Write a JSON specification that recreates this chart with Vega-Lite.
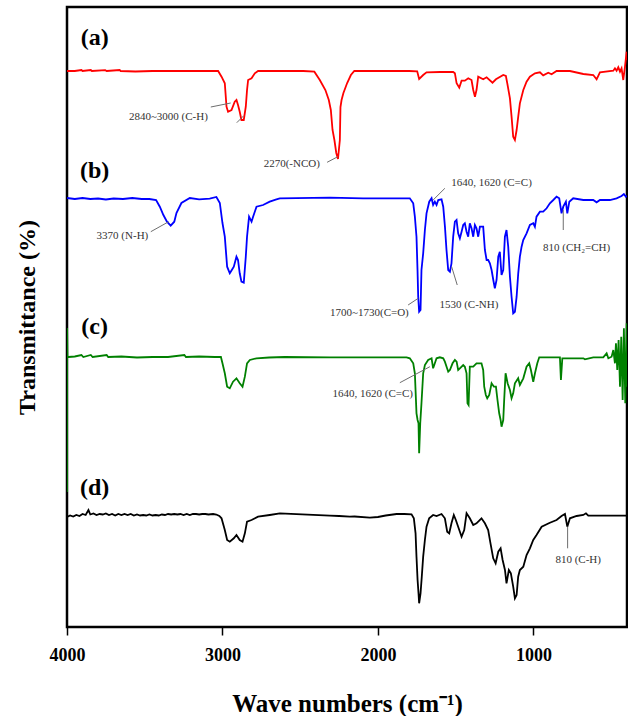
{
"$schema": "https://vega.github.io/schema/vega-lite/v6.json",
"width": 560, "height": 620,
"autosize": "none",
"padding": {"left": 67, "top": 7, "right": 1, "bottom": 89},
"background": "white",
"config": {"view": {"stroke": "black", "strokeWidth": 2.5}, "font": "Liberation Serif"},
"datasets": {
"spectra": [
{"s":"a","w":4000,"t":556},{"s":"a","w":3950,"t":556},{"s":"a","w":3907,"t":557},{"s":"a","w":3900,"t":556},{"s":"a","w":3847,"t":557},{"s":"a","w":3840,"t":556},{"s":"a","w":3754,"t":556.8},{"s":"a","w":3745,"t":556},{"s":"a","w":3661,"t":557},{"s":"a","w":3655,"t":556},{"s":"a","w":3560,"t":555.5},{"s":"a","w":3450,"t":556},{"s":"a","w":3300,"t":556},{"s":"a","w":3150,"t":556},{"s":"a","w":3060,"t":556},{"s":"a","w":3028,"t":556},
{"s":"a","w":3006,"t":550.3},{"s":"a","w":2985,"t":543.7},{"s":"a","w":2974,"t":520.3},{"s":"a","w":2964,"t":515.3},{"s":"a","w":2942,"t":517},{"s":"a","w":2921,"t":525.3},{"s":"a","w":2910,"t":527},{"s":"a","w":2900,"t":522},{"s":"a","w":2889,"t":515.3},{"s":"a","w":2878,"t":507},{"s":"a","w":2863,"t":507},{"s":"a","w":2850,"t":520.3},{"s":"a","w":2842,"t":537},{"s":"a","w":2835,"t":547},{"s":"a","w":2813,"t":548.7},{"s":"a","w":2792,"t":553.7},{"s":"a","w":2771,"t":556},{"s":"a","w":2700,"t":556},{"s":"a","w":2600,"t":556},{"s":"a","w":2480,"t":556},
{"s":"a","w":2409,"t":555.3},{"s":"a","w":2374,"t":547},{"s":"a","w":2338,"t":537},{"s":"a","w":2316,"t":527},{"s":"a","w":2303,"t":517},{"s":"a","w":2292,"t":497},{"s":"a","w":2280,"t":487},{"s":"a","w":2268,"t":474},{"s":"a","w":2257,"t":468},{"s":"a","w":2245,"t":487},{"s":"a","w":2241,"t":520},{"s":"a","w":2234,"t":527},{"s":"a","w":2222,"t":534},{"s":"a","w":2198,"t":544},{"s":"a","w":2174,"t":552},{"s":"a","w":2152,"t":556},
{"s":"a","w":2100,"t":556},{"s":"a","w":1900,"t":556},{"s":"a","w":1800,"t":556},{"s":"a","w":1747.5,"t":555.7},{"s":"a","w":1735,"t":548},{"s":"a","w":1709,"t":552},{"s":"a","w":1687.5,"t":554.7},{"s":"a","w":1600,"t":555},{"s":"a","w":1516,"t":555},{"s":"a","w":1505,"t":553.7},{"s":"a","w":1494,"t":543.7},{"s":"a","w":1477,"t":539.3},{"s":"a","w":1462,"t":546.3},{"s":"a","w":1441,"t":546.3},{"s":"a","w":1419,"t":548.7},{"s":"a","w":1398,"t":547},{"s":"a","w":1387,"t":537},{"s":"a","w":1376,"t":530.3},{"s":"a","w":1366,"t":537},{"s":"a","w":1355,"t":550.3},{"s":"a","w":1323,"t":547.7},{"s":"a","w":1301,"t":549.7},{"s":"a","w":1263,"t":544.3},{"s":"a","w":1241,"t":547.7},{"s":"a","w":1194,"t":552},{"s":"a","w":1177,"t":551},{"s":"a","w":1168,"t":543.7},{"s":"a","w":1151,"t":528.7},{"s":"a","w":1140.5,"t":510.3},{"s":"a","w":1130,"t":490.3},{"s":"a","w":1119,"t":487},{"s":"a","w":1108,"t":497},{"s":"a","w":1097.6,"t":510.3},{"s":"a","w":1087,"t":523.7},{"s":"a","w":1065,"t":537},{"s":"a","w":1044,"t":545.3},{"s":"a","w":1022.5,"t":550.3},{"s":"a","w":990,"t":553.7},{"s":"a","w":958,"t":554.7},{"s":"a","w":937,"t":551.7},{"s":"a","w":904.5,"t":554.3},{"s":"a","w":883,"t":552.7},{"s":"a","w":851,"t":556},{"s":"a","w":765,"t":556},{"s":"a","w":679,"t":553},{"s":"a","w":615,"t":552},{"s":"a","w":593.5,"t":547.7},{"s":"a","w":572,"t":554.7},{"s":"a","w":486,"t":556.3},{"s":"a","w":475.5,"t":558.7},{"s":"a","w":465,"t":556.3},{"s":"a","w":454,"t":559.7},{"s":"a","w":443,"t":555.3},{"s":"a","w":433,"t":558.7},{"s":"a","w":422,"t":547},{"s":"a","w":411,"t":560.3},{"s":"a","w":400,"t":575.3},{"s":"a","w":398,"t":567},

{"s":"b","w":4000,"t":429},{"s":"b","w":3950,"t":428},{"s":"b","w":3900,"t":429},{"s":"b","w":3850,"t":428},{"s":"b","w":3800,"t":428.5},{"s":"b","w":3750,"t":427.5},{"s":"b","w":3700,"t":428.5},{"s":"b","w":3640,"t":428},{"s":"b","w":3580,"t":429},{"s":"b","w":3520,"t":428},{"s":"b","w":3470,"t":428},{"s":"b","w":3427,"t":427},{"s":"b","w":3403,"t":420.3},{"s":"b","w":3380,"t":412},{"s":"b","w":3357,"t":405.3},{"s":"b","w":3333,"t":401.3},{"s":"b","w":3310,"t":405.3},{"s":"b","w":3296,"t":414},{"s":"b","w":3264,"t":424},{"s":"b","w":3210,"t":429},{"s":"b","w":3150,"t":427.7},{"s":"b","w":3082,"t":428.3},{"s":"b","w":3039,"t":430},{"s":"b","w":3017,"t":424},
{"s":"b","w":3000,"t":404},{"s":"b","w":2985,"t":390.3},{"s":"b","w":2970,"t":360.3},{"s":"b","w":2953,"t":353.7},{"s":"b","w":2940,"t":357},{"s":"b","w":2927,"t":360.3},{"s":"b","w":2910,"t":370.3},{"s":"b","w":2900,"t":367},{"s":"b","w":2889,"t":353.7},{"s":"b","w":2878,"t":345.3},{"s":"b","w":2863,"t":344.3},{"s":"b","w":2850,"t":370.3},{"s":"b","w":2842,"t":390.3},{"s":"b","w":2829,"t":410.3},{"s":"b","w":2813,"t":405.3},{"s":"b","w":2803,"t":410.3},{"s":"b","w":2781,"t":420.3},{"s":"b","w":2739,"t":422},{"s":"b","w":2696,"t":425.3},{"s":"b","w":2653,"t":427.7},{"s":"b","w":2631,"t":428.7},
{"s":"b","w":2309.5,"t":429.3},{"s":"b","w":2095,"t":428.7},{"s":"b","w":1795,"t":428.7},{"s":"b","w":1773,"t":423.7},{"s":"b","w":1762.5,"t":410.3},{"s":"b","w":1752,"t":390.3},{"s":"b","w":1745.4,"t":357},{"s":"b","w":1741,"t":330.3},{"s":"b","w":1735,"t":315.3},{"s":"b","w":1726,"t":317},{"s":"b","w":1720,"t":357},{"s":"b","w":1709,"t":373.7},{"s":"b","w":1698,"t":397},{"s":"b","w":1687.5,"t":413.7},{"s":"b","w":1670,"t":425.3},{"s":"b","w":1655,"t":428.7},{"s":"b","w":1645,"t":422},{"s":"b","w":1634,"t":425.3},{"s":"b","w":1623,"t":422},{"s":"b","w":1612,"t":427},{"s":"b","w":1591,"t":427.7},{"s":"b","w":1580,"t":420.3},{"s":"b","w":1569,"t":400.3},{"s":"b","w":1559,"t":377},{"s":"b","w":1548,"t":357},{"s":"b","w":1537,"t":355.3},{"s":"b","w":1527,"t":363.7},{"s":"b","w":1516,"t":390.3},{"s":"b","w":1505,"t":405.3},{"s":"b","w":1494.4,"t":407},{"s":"b","w":1484,"t":393.7},{"s":"b","w":1473,"t":388.7},{"s":"b","w":1462,"t":395.3},{"s":"b","w":1451.5,"t":402},{"s":"b","w":1441,"t":403.7},{"s":"b","w":1430,"t":395.3},{"s":"b","w":1419.4,"t":390.3},{"s":"b","w":1409,"t":403.7},{"s":"b","w":1398,"t":398.7},{"s":"b","w":1387,"t":390.3},{"s":"b","w":1376.4,"t":402},{"s":"b","w":1366,"t":398.7},{"s":"b","w":1355,"t":390.3},{"s":"b","w":1344,"t":400.3},{"s":"b","w":1323,"t":400.3},{"s":"b","w":1312,"t":377},{"s":"b","w":1301,"t":367},{"s":"b","w":1291,"t":367},{"s":"b","w":1280,"t":363.7},{"s":"b","w":1269,"t":357},{"s":"b","w":1258,"t":347},{"s":"b","w":1248,"t":338.7},{"s":"b","w":1237,"t":347},{"s":"b","w":1226,"t":370.3},{"s":"b","w":1216,"t":375.3},{"s":"b","w":1205,"t":352},{"s":"b","w":1194,"t":357},{"s":"b","w":1183.4,"t":390.3},{"s":"b","w":1173,"t":397},{"s":"b","w":1162,"t":380.3},{"s":"b","w":1151,"t":350.3},{"s":"b","w":1140.5,"t":330.3},{"s":"b","w":1130,"t":313.7},{"s":"b","w":1119,"t":315.3},{"s":"b","w":1108,"t":330.3},{"s":"b","w":1097.6,"t":353.7},{"s":"b","w":1087,"t":370.3},{"s":"b","w":1076,"t":380.3},{"s":"b","w":1065.4,"t":387},{"s":"b","w":1044,"t":393.7},{"s":"b","w":1022.5,"t":402},{"s":"b","w":1001,"t":403.7},{"s":"b","w":990.4,"t":400.3},{"s":"b","w":980,"t":410.3},{"s":"b","w":958,"t":415.3},{"s":"b","w":937,"t":415.3},{"s":"b","w":915,"t":418.7},{"s":"b","w":894,"t":423.7},{"s":"b","w":872,"t":427},{"s":"b","w":851,"t":430.3},{"s":"b","w":834,"t":428.7},{"s":"b","w":819,"t":413.7},{"s":"b","w":808,"t":420.3},{"s":"b","w":791,"t":425.3},{"s":"b","w":782,"t":413.7},{"s":"b","w":769,"t":425.3},{"s":"b","w":744,"t":428.7},{"s":"b","w":679,"t":427},{"s":"b","w":615,"t":427},{"s":"b","w":593.5,"t":424.7},{"s":"b","w":572,"t":427},{"s":"b","w":508,"t":427},{"s":"b","w":465,"t":428.7},{"s":"b","w":433,"t":431},{"s":"b","w":418,"t":433},{"s":"b","w":405,"t":430.3},{"s":"b","w":398,"t":431},

{"s":"c","w":4000,"t":135},{"s":"c","w":3999.5,"t":299},{"s":"c","w":3997,"t":270},{"s":"c","w":3990,"t":270},{"s":"c","w":3950,"t":270.5},{"s":"c","w":3907,"t":272},{"s":"c","w":3895,"t":270},{"s":"c","w":3847,"t":272},{"s":"c","w":3835,"t":270},{"s":"c","w":3745,"t":272},{"s":"c","w":3735,"t":270},{"s":"c","w":3650,"t":270.5},{"s":"c","w":3550,"t":269.5},{"s":"c","w":3450,"t":270},{"s":"c","w":3350,"t":270},{"s":"c","w":3245,"t":272},{"s":"c","w":3235,"t":270},{"s":"c","w":3150,"t":270.5},{"s":"c","w":3050,"t":270},{"s":"c","w":3010,"t":270},
{"s":"c","w":3000,"t":263.7},{"s":"c","w":2985,"t":253.7},{"s":"c","w":2970,"t":240.3},{"s":"c","w":2953,"t":238.7},{"s":"c","w":2932,"t":245.3},{"s":"c","w":2910,"t":248.7},{"s":"c","w":2889,"t":243.7},{"s":"c","w":2871,"t":240.3},{"s":"c","w":2856,"t":250.3},{"s":"c","w":2842,"t":263.7},{"s":"c","w":2824,"t":267},{"s":"c","w":2781,"t":268.7},{"s":"c","w":2700,"t":269.5},{"s":"c","w":2600,"t":270},
{"s":"c","w":2309.5,"t":269.7},{"s":"c","w":1816,"t":269.7},{"s":"c","w":1795,"t":268.7},{"s":"c","w":1773,"t":263.7},{"s":"c","w":1762.5,"t":253.7},{"s":"c","w":1752,"t":213.7},{"s":"c","w":1745,"t":207},{"s":"c","w":1739,"t":203.7},{"s":"c","w":1735,"t":173.7},{"s":"c","w":1728,"t":203.7},{"s":"c","w":1720,"t":223.7},{"s":"c","w":1709,"t":253.7},{"s":"c","w":1698,"t":262},{"s":"c","w":1677,"t":267},{"s":"c","w":1655,"t":268.7},{"s":"c","w":1645,"t":258.7},{"s":"c","w":1634,"t":263.7},{"s":"c","w":1623,"t":268.7},{"s":"c","w":1602,"t":269.7},{"s":"c","w":1580,"t":268.7},{"s":"c","w":1569.5,"t":265.3},{"s":"c","w":1548,"t":255.3},{"s":"c","w":1537,"t":257},{"s":"c","w":1520,"t":263.7},{"s":"c","w":1505,"t":267},{"s":"c","w":1494,"t":265.3},{"s":"c","w":1484,"t":257},{"s":"c","w":1473,"t":258.7},{"s":"c","w":1451.5,"t":262},{"s":"c","w":1441,"t":260.3},{"s":"c","w":1430,"t":253.7},{"s":"c","w":1424,"t":223.7},{"s":"c","w":1417,"t":222},{"s":"c","w":1409,"t":260.3},{"s":"c","w":1387,"t":260.3},{"s":"c","w":1366,"t":263.7},{"s":"c","w":1334,"t":263.7},{"s":"c","w":1323,"t":257},{"s":"c","w":1316.4,"t":240.3},{"s":"c","w":1306,"t":232},{"s":"c","w":1297,"t":228.7},{"s":"c","w":1284,"t":232},{"s":"c","w":1269,"t":243.7},{"s":"c","w":1254,"t":240.3},{"s":"c","w":1241,"t":240.3},{"s":"c","w":1231,"t":227},{"s":"c","w":1220,"t":213.7},{"s":"c","w":1211,"t":207},{"s":"c","w":1205,"t":200.3},{"s":"c","w":1194,"t":207},{"s":"c","w":1188,"t":227},{"s":"c","w":1179,"t":253.7},{"s":"c","w":1166,"t":243.7},{"s":"c","w":1151,"t":237},{"s":"c","w":1140.5,"t":228.7},{"s":"c","w":1130,"t":233.7},{"s":"c","w":1119,"t":243.7},{"s":"c","w":1098,"t":248.7},{"s":"c","w":1087,"t":242},{"s":"c","w":1065,"t":248.7},{"s":"c","w":1044,"t":260.3},{"s":"c","w":1027,"t":263.7},{"s":"c","w":1016,"t":257},{"s":"c","w":1001,"t":245.3},{"s":"c","w":990,"t":253.7},{"s":"c","w":975,"t":263.7},{"s":"c","w":962.5,"t":269.7},{"s":"c","w":829.5,"t":269.7},{"s":"c","w":823,"t":247},{"s":"c","w":814,"t":268.7},{"s":"c","w":679,"t":268.7},{"s":"c","w":668.5,"t":267.7},{"s":"c","w":615,"t":269.7},{"s":"c","w":550.6,"t":269.7},{"s":"c","w":529,"t":273.7},{"s":"c","w":518,"t":268.7},{"s":"c","w":497,"t":270.3},{"s":"c","w":486,"t":277},{"s":"c","w":475.5,"t":263.7},{"s":"c","w":469,"t":283.7},{"s":"c","w":460.6,"t":257},{"s":"c","w":452,"t":287},{"s":"c","w":443,"t":240.3},{"s":"c","w":435,"t":290.3},{"s":"c","w":426,"t":227},{"s":"c","w":418,"t":298.7},{"s":"c","w":409,"t":223.7},{"s":"c","w":400,"t":303.7},{"s":"c","w":398,"t":240.3},

{"s":"d","w":4000,"t":110},{"s":"d","w":3980,"t":111.5},{"s":"d","w":3960,"t":110.5},{"s":"d","w":3940,"t":112},{"s":"d","w":3920,"t":111},{"s":"d","w":3900,"t":113},{"s":"d","w":3880,"t":112},{"s":"d","w":3862,"t":117},{"s":"d","w":3850,"t":112.5},{"s":"d","w":3830,"t":113.5},{"s":"d","w":3810,"t":112},{"s":"d","w":3790,"t":113},{"s":"d","w":3770,"t":112.5},{"s":"d","w":3750,"t":113.5},{"s":"d","w":3730,"t":112},{"s":"d","w":3710,"t":113},{"s":"d","w":3690,"t":111.5},{"s":"d","w":3670,"t":113},{"s":"d","w":3650,"t":112},{"s":"d","w":3630,"t":113},{"s":"d","w":3610,"t":112},{"s":"d","w":3590,"t":113},{"s":"d","w":3570,"t":111.5},{"s":"d","w":3550,"t":112.5},{"s":"d","w":3530,"t":111.5},{"s":"d","w":3510,"t":112},{"s":"d","w":3490,"t":111.5},{"s":"d","w":3470,"t":112.5},{"s":"d","w":3450,"t":111.5},{"s":"d","w":3430,"t":112},{"s":"d","w":3410,"t":111.5},{"s":"d","w":3390,"t":112.5},{"s":"d","w":3370,"t":112},{"s":"d","w":3350,"t":113},{"s":"d","w":3330,"t":112.5},{"s":"d","w":3310,"t":113},{"s":"d","w":3290,"t":112.5},{"s":"d","w":3270,"t":113},{"s":"d","w":3250,"t":112},{"s":"d","w":3230,"t":113},{"s":"d","w":3210,"t":112},{"s":"d","w":3190,"t":113},{"s":"d","w":3170,"t":113},{"s":"d","w":3150,"t":112.5},{"s":"d","w":3130,"t":113},{"s":"d","w":3110,"t":113},{"s":"d","w":3090,"t":112.5},{"s":"d","w":3060,"t":113},{"s":"d","w":3040,"t":112.5},{"s":"d","w":3020,"t":111},
{"s":"d","w":3006,"t":108.7},{"s":"d","w":2985,"t":97},{"s":"d","w":2970,"t":87},{"s":"d","w":2953,"t":85.3},{"s":"d","w":2927,"t":88.7},{"s":"d","w":2910,"t":92},{"s":"d","w":2889,"t":87},{"s":"d","w":2871,"t":85.3},{"s":"d","w":2856,"t":93.7},{"s":"d","w":2842,"t":105.3},{"s":"d","w":2813,"t":107},{"s":"d","w":2771,"t":110.3},{"s":"d","w":2696,"t":112},{"s":"d","w":2631,"t":113.7},
{"s":"d","w":2309.5,"t":111.3},{"s":"d","w":2250,"t":111},{"s":"d","w":2181,"t":110.3},{"s":"d","w":2150,"t":110.5},{"s":"d","w":2052,"t":109.3},{"s":"d","w":2000,"t":110},{"s":"d","w":1950,"t":111.5},{"s":"d","w":1880,"t":113},{"s":"d","w":1830,"t":113},{"s":"d","w":1784,"t":112.7},{"s":"d","w":1769,"t":108.7},{"s":"d","w":1758,"t":93.7},{"s":"d","w":1752,"t":70.3},{"s":"d","w":1745,"t":47},{"s":"d","w":1739,"t":33.7},{"s":"d","w":1735,"t":23.7},{"s":"d","w":1726,"t":33.7},{"s":"d","w":1718,"t":50.3},{"s":"d","w":1709,"t":70.3},{"s":"d","w":1698,"t":87},{"s":"d","w":1687.5,"t":100.3},{"s":"d","w":1670.5,"t":108.7},{"s":"d","w":1645,"t":112},{"s":"d","w":1623,"t":111},{"s":"d","w":1591,"t":113},{"s":"d","w":1569.5,"t":108.7},{"s":"d","w":1554.5,"t":95.3},{"s":"d","w":1541.5,"t":93.7},{"s":"d","w":1527,"t":103.7},{"s":"d","w":1512,"t":112},{"s":"d","w":1499,"t":107},{"s":"d","w":1484,"t":100.3},{"s":"d","w":1462,"t":90.3},{"s":"d","w":1445,"t":97},{"s":"d","w":1430,"t":113.7},{"s":"d","w":1409,"t":108.7},{"s":"d","w":1387,"t":102},{"s":"d","w":1366,"t":103.7},{"s":"d","w":1334,"t":108.7},{"s":"d","w":1312,"t":103.7},{"s":"d","w":1291,"t":97},{"s":"d","w":1276,"t":83.7},{"s":"d","w":1258.5,"t":68.7},{"s":"d","w":1243,"t":63.7},{"s":"d","w":1226,"t":75.3},{"s":"d","w":1211,"t":78.7},{"s":"d","w":1198,"t":67},{"s":"d","w":1183,"t":57},{"s":"d","w":1173,"t":43.7},{"s":"d","w":1158,"t":57},{"s":"d","w":1145,"t":53.7},{"s":"d","w":1130,"t":40.3},{"s":"d","w":1119,"t":28.7},{"s":"d","w":1108,"t":32},{"s":"d","w":1098,"t":50.3},{"s":"d","w":1087,"t":57},{"s":"d","w":1065,"t":60.3},{"s":"d","w":1044,"t":72},{"s":"d","w":1022.5,"t":78.7},{"s":"d","w":1001,"t":87},{"s":"d","w":980,"t":92},{"s":"d","w":947,"t":100.3},{"s":"d","w":894,"t":104.3},{"s":"d","w":851,"t":107},{"s":"d","w":819,"t":111},{"s":"d","w":797,"t":113},{"s":"d","w":782,"t":100.3},{"s":"d","w":765,"t":108.7},{"s":"d","w":722,"t":111},{"s":"d","w":679,"t":112},{"s":"d","w":662,"t":113.7},{"s":"d","w":647,"t":111.3},{"s":"d","w":398,"t":111.3}
],
"leaders": [
{"w1":3075,"t1":520,"w2":2947,"t2":524},
{"w1":2908,"t1":504.3,"w2":2863,"t2":511.3},
{"w1":2327,"t1":464.7,"w2":2258,"t2":470.3},
{"w1":3461,"t1":395.3,"w2":3346,"t2":405.3},
{"w1":1569.5,"t1":438.7,"w2":1645,"t2":427},
{"w1":1806,"t1":322,"w2":1741,"t2":328.7},
{"w1":1490,"t1":342,"w2":1526,"t2":360.3},
{"w1":808,"t1":397,"w2":808,"t2":417},
{"w1":1859,"t1":244.3,"w2":1666,"t2":260.3},
{"w1":780,"t1":100.3,"w2":780,"t2":78.7}
],
"notes": [
{"w":3348,"t":510,"label":"2840~3000 (C-H)"},
{"w":2554,"t":463,"label":"2270(-NCO)"},
{"w":3643.5,"t":391,"label":"3370 (N-H)"},
{"w":1269,"t":444.3,"label":"1640, 1620 (C=C)"},
{"w":2055,"t":314,"label":"1700~1730(C=O)"},
{"w":1415,"t":322,"label":"1530 (C-NH)"},
{"w":722,"t":378.7,"label":"810 (CH₂=CH)"},
{"w":2033,"t":233,"label":"1640, 1620 (C=C)"},
{"w":712,"t":67,"label":"810 (C-H)"}
],
"panels": [
{"w":3822,"t":589,"label":"(a)"},
{"w":3822,"t":456,"label":"(b)"},
{"w":3822,"t":300,"label":"(c)"},
{"w":3822,"t":139,"label":"(d)"}
]
},
"layer": [
{
"data": {"name": "spectra"},
"mark": {"type": "line", "strokeWidth": 1.8, "clip": true},
"encoding": {
"x": {"field": "w", "type": "quantitative",
  "scale": {"domain": [398, 4000], "reverse": true, "nice": false, "zero": false},
  "axis": {"values": [4000, 3000, 2000, 1000], "format": "d", "grid": false, "domain": false,
    "tickSize": 8, "tickWidth": 1.5, "tickColor": "black",
    "labelFont": "Liberation Serif", "labelFontWeight": "bold", "labelFontSize": 18, "labelColor": "black",
    "labelBaseline": "alphabetic", "labelPadding": 25, "labelFlush": false,
    "title": "Wave numbers (cm⁻¹)", "titleFont": "Liberation Serif", "titleFontWeight": "bold", "titleFontSize": 25,
    "titleColor": "black", "titleBaseline": "alphabetic", "titleY": 84, "titleX": 280, "titleAnchor": "middle"}},
"y": {"field": "t", "type": "quantitative",
  "scale": {"domain": [0, 620], "nice": false, "zero": false},
  "axis": {"grid": false, "domain": false, "ticks": false, "labels": false,
    "title": "Transmittance (%)", "titleFont": "Liberation Serif", "titleFontWeight": "bold", "titleFontSize": 24,
    "titleColor": "black", "titleAngle": -90, "titleBaseline": "alphabetic", "titleAlign": "center", "titleX": -33, "titleY": 310}},
"color": {"field": "s", "type": "nominal",
  "scale": {"domain": ["a", "b", "c", "d"], "range": ["#ff0000", "#0000ff", "#008000", "#000000"]},
  "legend": null}
}
},
{
"data": {"name": "leaders"},
"mark": {"type": "rule", "color": "#6e6e6e", "strokeWidth": 1},
"encoding": {
"x": {"field": "w1", "type": "quantitative"},
"x2": {"field": "w2"},
"y": {"field": "t1", "type": "quantitative"},
"y2": {"field": "t2"}
}
},
{
"data": {"name": "notes"},
"mark": {"type": "text", "font": "Liberation Serif", "fontSize": 11, "color": "#333333", "align": "center", "baseline": "middle"},
"encoding": {
"x": {"field": "w", "type": "quantitative"},
"y": {"field": "t", "type": "quantitative"},
"text": {"field": "label"}
}
},
{
"data": {"name": "panels"},
"mark": {"type": "text", "font": "Liberation Serif", "fontSize": 24, "fontWeight": "bold", "color": "black", "align": "center", "baseline": "middle"},
"encoding": {
"x": {"field": "w", "type": "quantitative"},
"y": {"field": "t", "type": "quantitative"},
"text": {"field": "label"}
}
}
]
}
